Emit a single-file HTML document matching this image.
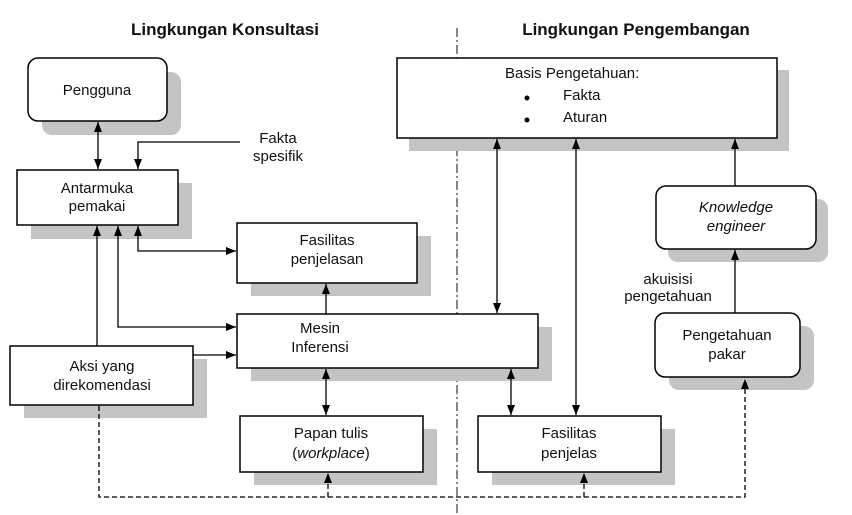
<!DOCTYPE html>
<html><head><meta charset="utf-8"><style>
html,body{margin:0;padding:0;background:#fff;width:852px;height:515px;overflow:hidden}
svg text{font-family:"Liberation Sans",Arial,sans-serif;font-size:15px;fill:#111}
</style></head><body>
<svg width="852" height="515" viewBox="0 0 852 515" xmlns="http://www.w3.org/2000/svg">
<defs>
<marker id="a" viewBox="0 0 10 10" refX="10" refY="5" markerWidth="10" markerHeight="10" orient="auto-start-reverse" markerUnits="userSpaceOnUse"><path d="M0,1 L10,5 L0,9 z" fill="#000"/></marker>
</defs>
<text x="225" y="35" text-anchor="middle" style="font-weight:bold;font-size:17px">Lingkungan Konsultasi</text>
<text x="636" y="35" text-anchor="middle" style="font-weight:bold;font-size:17px">Lingkungan Pengembangan</text>
<line x1="457" y1="28" x2="457" y2="515" stroke="#444" stroke-width="1.3" stroke-dasharray="9,3,2,3"/>
<g fill="#c4c4c4">
<rect x="42" y="72" width="139" height="63" rx="10"/>
<rect x="31" y="183" width="161" height="56"/>
<rect x="251" y="236" width="180" height="60"/>
<rect x="251" y="327" width="301" height="54"/>
<rect x="24" y="359" width="183" height="59"/>
<rect x="254" y="429" width="183" height="56"/>
<rect x="492" y="429" width="183" height="56"/>
<rect x="669" y="326" width="145" height="64" rx="10"/>
<rect x="409" y="70" width="380" height="81"/>
<rect x="668" y="199" width="160" height="63" rx="10"/>
</g>
<g fill="#fff" stroke="#000" stroke-width="1.5">
<rect x="28" y="58" width="139" height="63" rx="10"/>
<rect x="17" y="170" width="161" height="55"/>
<rect x="237" y="223" width="180" height="60"/>
<rect x="237" y="314" width="301" height="54"/>
<rect x="10" y="346" width="183" height="59"/>
<rect x="240" y="416" width="183" height="56"/>
<rect x="478" y="416" width="183" height="56"/>
<rect x="655" y="313" width="145" height="64" rx="10"/>
<rect x="397" y="58" width="380" height="80"/>
<rect x="656" y="186" width="160" height="63" rx="10"/>
</g>
<text x="97" y="95" text-anchor="middle">Pengguna</text>
<text x="97" y="193" text-anchor="middle">Antarmuka</text>
<text x="97" y="211" text-anchor="middle">pemakai</text>
<text x="278" y="143" text-anchor="middle">Fakta</text>
<text x="278" y="161" text-anchor="middle">spesifik</text>
<text x="327" y="245" text-anchor="middle">Fasilitas</text>
<text x="327" y="264" text-anchor="middle">penjelasan</text>
<text x="320" y="333" text-anchor="middle">Mesin</text>
<text x="320" y="352" text-anchor="middle">Inferensi</text>
<text x="102" y="371" text-anchor="middle">Aksi yang</text>
<text x="102" y="390" text-anchor="middle">direkomendasi</text>
<text x="331" y="438" text-anchor="middle">Papan tulis</text>
<text x="331" y="458" text-anchor="middle">(<tspan font-style="italic">workplace</tspan>)</text>
<text x="569" y="438" text-anchor="middle">Fasilitas</text>
<text x="569" y="458" text-anchor="middle">penjelas</text>
<text x="727" y="340" text-anchor="middle">Pengetahuan</text>
<text x="727" y="359" text-anchor="middle">pakar</text>
<text x="736" y="212" text-anchor="middle" font-style="italic">Knowledge</text>
<text x="736" y="231" text-anchor="middle" font-style="italic">engineer</text>
<text x="668" y="284" text-anchor="middle">akuisisi</text>
<text x="668" y="301" text-anchor="middle">pengetahuan</text>
<text x="505" y="78">Basis Pengetahuan:</text>
<circle cx="527" cy="98" r="2.5" fill="#000"/>
<circle cx="527" cy="120" r="2.5" fill="#000"/>
<text x="563" y="100">Fakta</text>
<text x="563" y="122">Aturan</text>
<g stroke="#000" stroke-width="1.3" fill="none">
<line x1="98" y1="122" x2="98" y2="169" marker-start="url(#a)" marker-end="url(#a)"/>
<polyline points="240,142 138,142 138,169" marker-end="url(#a)"/>
<line x1="97" y1="346" x2="97" y2="226" marker-end="url(#a)"/>
<polyline points="236,327 118,327 118,226" marker-start="url(#a)" marker-end="url(#a)"/>
<polyline points="236,251 138,251 138,226" marker-start="url(#a)" marker-end="url(#a)"/>
<line x1="193" y1="355" x2="236" y2="355" marker-end="url(#a)"/>
<line x1="326" y1="314" x2="326" y2="284" marker-end="url(#a)"/>
<line x1="326" y1="369" x2="326" y2="415" marker-start="url(#a)" marker-end="url(#a)"/>
<line x1="497" y1="139" x2="497" y2="313" marker-start="url(#a)" marker-end="url(#a)"/>
<line x1="576" y1="139" x2="576" y2="415" marker-start="url(#a)" marker-end="url(#a)"/>
<line x1="511" y1="369" x2="511" y2="415" marker-start="url(#a)" marker-end="url(#a)"/>
<line x1="735" y1="186" x2="735" y2="139" marker-end="url(#a)"/>
<line x1="735" y1="313" x2="735" y2="250" marker-end="url(#a)"/>
</g>
<g stroke="#000" stroke-width="1.3" fill="none" stroke-dasharray="5,3">
<polyline points="99,406 99,497 745,497 745,379" marker-end="url(#a)"/>
<line x1="328" y1="497" x2="328" y2="473" marker-end="url(#a)"/>
<line x1="584" y1="497" x2="584" y2="473" marker-end="url(#a)"/>
</g>
</svg>
</body></html>
